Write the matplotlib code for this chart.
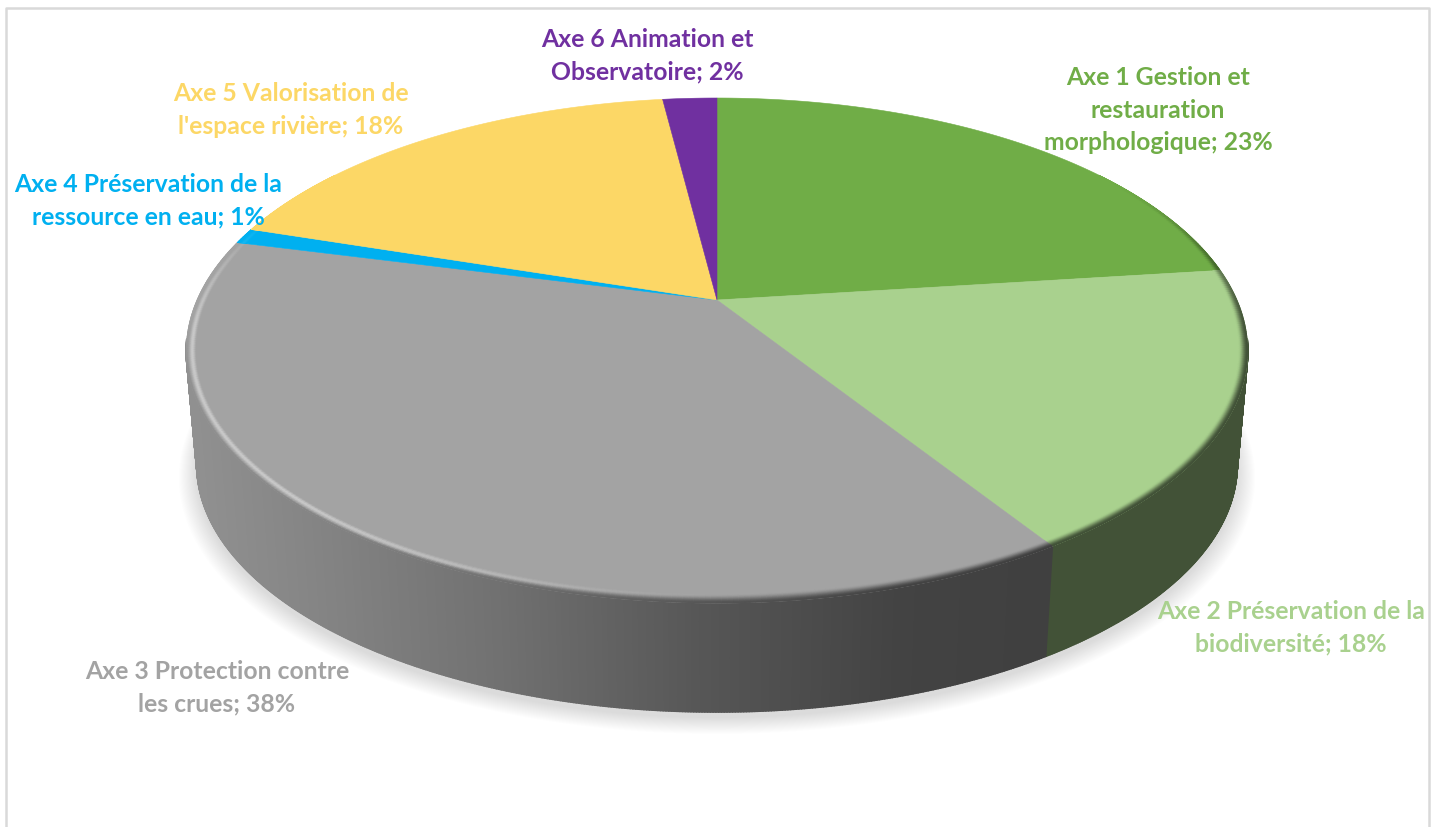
import numpy as np
import matplotlib
matplotlib.use("Agg")
import matplotlib.pyplot as plt
from matplotlib.collections import PolyCollection
from matplotlib.colors import to_rgb

# Programme budget split per axis (percent)
labels = [
    "Axe 1 Gestion et\nrestauration\nmorphologique; 23%",
    "Axe 2 Préservation de la\nbiodiversité; 18%",
    "Axe 3 Protection contre\nles crues; 38%",
    "Axe 4 Préservation de la\nressource en eau; 1%",
    "Axe 5 Valorisation de\nl'espace rivière; 18%",
    "Axe 6 Animation et\nObservatoire; 2%",
]
shares = [23, 18, 38, 1, 18, 2]
colors = ["#70AD47", "#A9D18E", "#A3A3A3", "#00B0F0", "#FCD766", "#7030A0"]
label_pos = [(1158, 110), (1291, 628), (217, 688), (148, 201), (291, 110), (647, 56)]

W, H = 1437, 827
CX, CY = 717, 300
A, B, K = 520.0, 242.4, 0.2       # perspective disc parameters
DEPTH, SHRINK = 115.0, 0.98       # extrusion of the pie body
RIM_PX = 10.0                     # bevel width on screen
FRONT = (99.0, 261.0)             # angular range where the body side faces the viewer


def top(theta, r=1.0):
    """Point of the top face; theta in degrees clockwise from 12 o'clock."""
    t = np.radians(theta)
    X, Y = r * np.sin(t), r * np.cos(t)
    s = 1 / (1 + K * Y)
    return CX + A * X * s, CY - B * Y * s


def bottom(theta, grow=0.0, drop=0.0):
    x, y = top(theta)
    return (CX + (x - CX) * (SHRINK + grow),
            CY + (y - CY) * (SHRINK + grow) + DEPTH + drop)


def side_factor(x):
    return np.interp(x, [190, 300, 500, 700, 900, 1050], [.885, .82, .69, .53, .41, .39])


def smooth(v):
    v = np.clip(v, 0, 1)
    return v * v * (3 - 2 * v)


fig = plt.figure(figsize=(W / 100, H / 100), dpi=100, facecolor="white")
ax = fig.add_axes([0, 0, 1, 1])
ax.set_xlim(0, W)
ax.set_ylim(H, 0)
ax.axis("off")

# Chart frame (its lower edge runs past the canvas)
ax.plot([6, 6, 1429, 1429], [H + 5, 8, 8, H + 5], color="#D9D9D9", lw=1.8, zorder=1)

# Soft drop shadow under the body
ring = np.arange(0, 360.5, 1.0)
for g in np.linspace(0.034, 0.0, 18):
    sx, sy = bottom(ring, grow=g, drop=6 + 170 * g)
    ax.fill(sx, sy, color="black", alpha=0.0095, lw=0, zorder=2)

edges = np.concatenate([[0], np.cumsum(shares)]) * 3.6

# Body side, drawn as narrow shaded strips per slice
for a0, a1, col in zip(edges[:-1], edges[1:], colors):
    lo, hi = max(a0, FRONT[0]), min(a1, FRONT[1])
    if lo >= hi:
        continue
    base = np.array(to_rgb(col))
    th = np.arange(lo, hi + 0.25, 0.25)
    th[-1] = hi
    polys, fc = [], []
    for t0, t1 in zip(th[:-1], th[1:]):
        x0, y0 = top(t0)
        x1, y1 = top(t1)
        x2, y2 = bottom(t1)
        x3, y3 = bottom(t0)
        polys.append([(x0, y0), (x1, y1), (x2, y2), (x3, y3)])
        fc.append(base * side_factor((x0 + x1) / 2))
    ax.add_collection(PolyCollection(polys, facecolors=fc, edgecolors=fc, linewidths=1.3, zorder=3))

# Top face of the slices
for a0, a1, col in zip(edges[:-1], edges[1:], colors):
    th = np.linspace(a0, a1, max(int(a1 - a0) * 2, 4))
    x, y = top(th)
    ax.fill(np.r_[CX, x], np.r_[CY, y], color=col, lw=0.4, zorder=4)

# Bevel along the front rim: highlight on the lower left, dark blend into the side
N_RAD = 14
for a0, a1, col in zip(edges[:-1], edges[1:], colors):
    base = np.array(to_rgb(col))
    th = np.arange(a0, a1 + 0.5, 0.5)
    th[-1] = a1
    polys, fc = [], []
    for t0, t1 in zip(th[:-1], th[1:]):
        tm = (t0 + t1) / 2
        shown = smooth((tm - 55) / 45) * smooth((305 - tm) / 25)
        if shown <= 0:
            continue
        # the side only shows up to the left extreme of the disc
        dark = smooth((tm - 55) / 45) * smooth((268 - tm) / 16)
        glow = smooth((tm - 170) / 60) * smooth((295 - tm) / 35)
        ox, oy = top(tm, 1.0)
        ix, iy = top(tm, 0.98)
        width = (RIM_PX * (0.35 + 0.65 * shown)) * 0.02 / np.hypot(ox - ix, oy - iy)
        side = base * side_factor(ox)
        for i in range(N_RAD):
            u0, u1 = i / N_RAD, (i + 1) / N_RAD
            um = (u0 + u1) / 2
            r0, r1 = 1 - width * (1 - u0), 1 - width * (1 - u1)
            c = base + (1 - base) * 0.42 * glow * np.sin(np.pi * min(um / 0.85, 1)) ** 2
            start = 0.1 + 0.65 * glow
            mix = smooth((um - start) / (1 - start))
            c = c + (side - c) * mix * dark
            xs = [top(t0, r0), top(t1, r0), top(t1, r1), top(t0, r1)]
            polys.append([(float(p[0]), float(p[1])) for p in xs])
            fc.append(np.clip(c, 0, 1))
    if polys:
        ax.add_collection(PolyCollection(polys, facecolors=fc, edgecolors=fc, linewidths=0.5, zorder=5))

# Data labels
for txt, (lx, ly), col in zip(labels, label_pos, colors):
    ax.text(lx, ly, txt, color=col, family="Lato", weight="bold", fontsize=17.8,
            ha="center", va="center", linespacing=1.48, zorder=6)

fig.savefig("out.png", dpi=100)
